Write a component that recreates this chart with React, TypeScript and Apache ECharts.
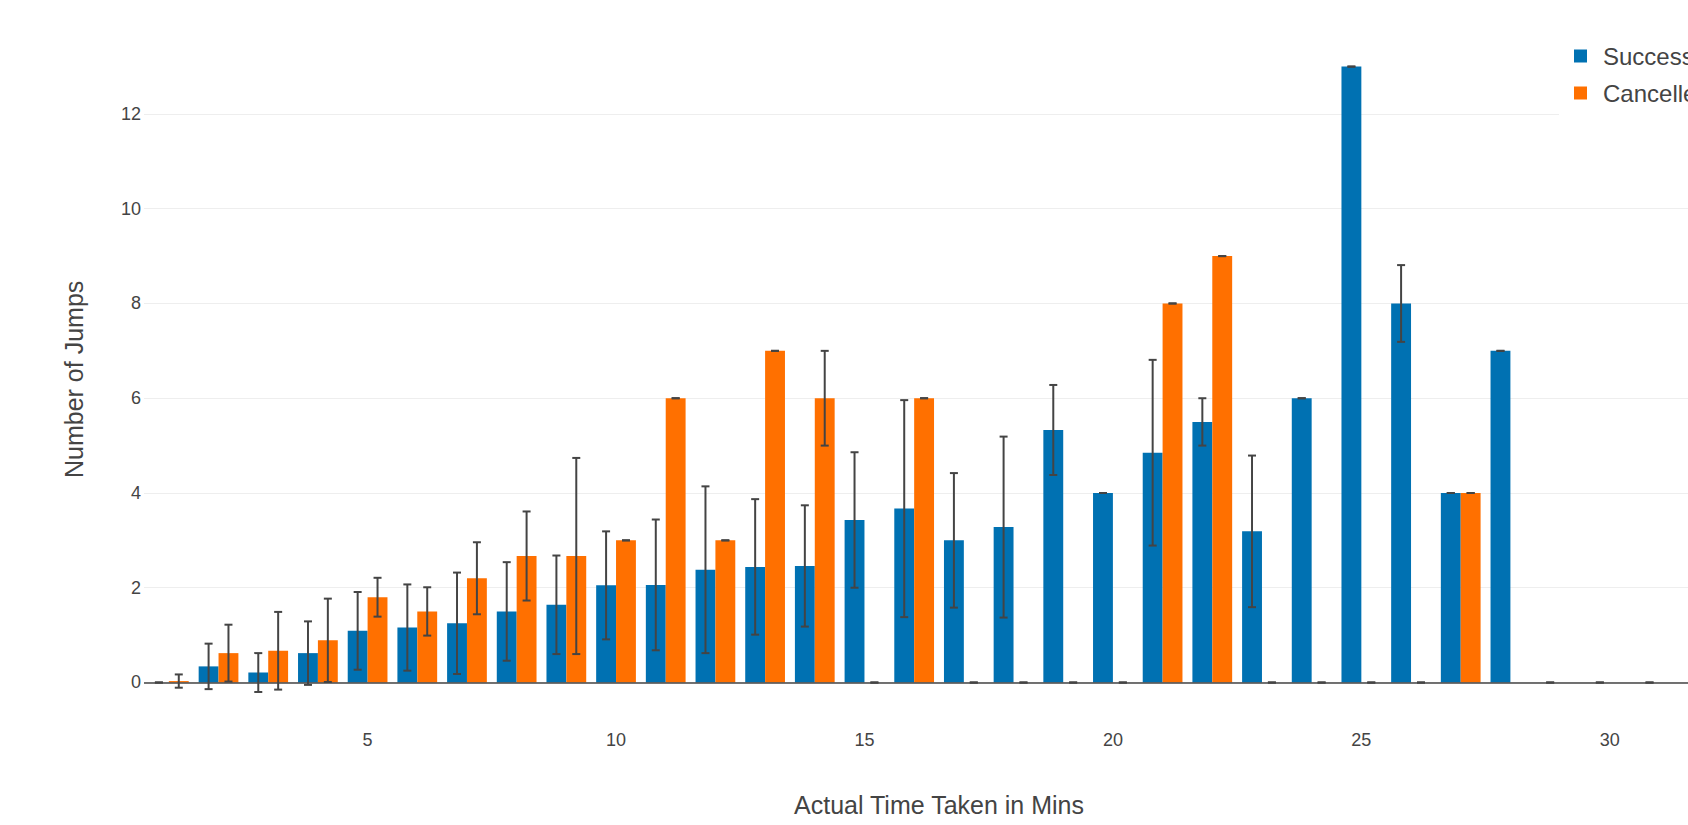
import React, { useEffect, useRef } from "react";
import * as echarts from "echarts";

const categories = [
  "1", "2", "3", "4", "5", "6", "7", "8", "9", "10", "11", "12", "13", "14", "15", "16",
  "17", "18", "19", "20", "21", "22", "23", "24", "25", "26", "27", "28", "29", "30", "31", "32",
];
const xTickLabels = ["5", "10", "15", "20", "25", "30"];
const yTickValues = [0, 2, 4, 6, 8, 10, 12];

const successful = [
  0, 0.34, 0.21, 0.62, 1.09, 1.16, 1.25, 1.5, 1.64, 2.05, 2.06, 2.38, 2.44, 2.46, 3.43, 3.67,
  3.0, 3.28, 5.33, 4.0, 4.85, 5.5, 3.19, 6, 13, 8, 4, 7, 0, 0, 0, 0,
];
const successfulErr = [
  0, 0.48, 0.41, 0.67, 0.82, 0.91, 1.07, 1.04, 1.04, 1.14, 1.38, 1.76, 1.43, 1.28, 1.43, 2.29,
  1.42, 1.91, 0.95, 0, 1.96, 0.5, 1.6, 0, 0, 0.81, 0, 0, 0, 0, 0, 0,
];
const cancelled = [
  0.03, 0.62, 0.67, 0.89, 1.8, 1.5, 2.2, 2.67, 2.67, 3, 6, 3, 7, 6, 0, 6,
  0, 0, 0, 0, 8, 9, 0, 0, 0, 0, 4, null, null, null, null, null,
];
const cancelledErr = [
  0.14, 0.6, 0.82, 0.88, 0.41, 0.51, 0.76, 0.94, 2.07, 0, 0, 0, 0, 1.0, 0, 0,
  0, 0, 0, 0, 0, 0, 0, 0, 0, 0, 0, null, null, null, null, null,
];

const BLUE = "#0071b2";
const ORANGE = "#ff7000";
const FONT = "'Liberation Sans', Arial, sans-serif";

function errData(vals: (number | null)[], errs: (number | null)[]) {
  const out: number[][] = [];
  vals.forEach((v, i) => {
    if (v != null) out.push([i, v, errs[i] ?? 0]);
  });
  return out;
}

function errRenderer(offsetFrac: number) {
  return (params: any, api: any) => {
    const idx = api.value(0);
    const v = api.value(1);
    const e = api.value(2);
    const c = api.coord([idx, v]);
    const band = api.size([1, 0])[0];
    const x = c[0] + offsetFrac * band;
    const top = api.coord([idx, v + e])[1];
    const bot = api.coord([idx, v - e])[1];
    const hw = 4;
    const style = { stroke: "#444", lineWidth: 2 };
    return {
      type: "group",
      children: [
        { type: "line", shape: { x1: x, y1: top, x2: x, y2: bot }, style },
        { type: "line", shape: { x1: x - hw, y1: top, x2: x + hw, y2: top }, style },
        { type: "line", shape: { x1: x - hw, y1: bot, x2: x + hw, y2: bot }, style },
      ],
    };
  };
}

export default function App() {
  const ref = useRef<HTMLDivElement>(null);
  useEffect(() => {
    document.body.style.margin = "0";
    document.body.style.overflow = "hidden";
    document.documentElement.style.overflow = "hidden";
    const chart = echarts.init(ref.current!, null, { renderer: "svg" });
    chart.setOption({
      animation: false,
      backgroundColor: "#fff",
      textStyle: { fontFamily: FONT },
      grid: { left: 144, right: 0, top: 32, bottom: 98.3, containLabel: false },
      legend: {
        orient: "vertical",
        left: 1559,
        top: 30,
        padding: [13, 10, 10, 15],
        itemWidth: 13,
        itemHeight: 13,
        itemGap: 11,
        icon: "rect",
        backgroundColor: "#fff",
        data: ["Successful", "Cancelled"],
        textStyle: { fontSize: 24, lineHeight: 26, color: "#444", fontFamily: FONT, padding: [0, 0, 0, 11] },
      },
      xAxis: {
        type: "category",
        data: categories,
        boundaryGap: true,
        axisLine: { show: false },
        axisTick: { show: false },
        splitLine: { show: false },
        axisLabel: {
          interval: (index: number, value: string) => xTickLabels.includes(value),
          fontSize: 18,
          color: "#444",
          margin: 4,
          fontFamily: FONT,
        },
        name: "Actual Time Taken in Mins",
        nameLocation: "middle",
        nameGap: 66,
        nameTextStyle: { fontSize: 25, color: "#444", fontFamily: FONT },
      },
      yAxis: {
        type: "value",
        min: -0.933,
        max: 13.73,
        axisLine: { show: false },
        axisTick: { show: false, customValues: yTickValues },
        axisLabel: {
          customValues: yTickValues,
          fontSize: 18,
          color: "#444",
          margin: 3,
          fontFamily: FONT,
        },
        splitLine: { show: true, lineStyle: { color: "#eee", width: 1 } },
        name: "Number of Jumps",
        nameLocation: "middle",
        nameGap: 58,
        nameTextStyle: { fontSize: 25, color: "#444", fontFamily: FONT },
      },
      series: [
        {
          name: "Successful",
          type: "bar",
          data: successful,
          barWidth: "40%",
          barGap: "0%",
          itemStyle: { color: BLUE },
          markLine: {
            silent: true,
            symbol: "none",
            label: { show: false },
            lineStyle: { color: "#444", width: 1.5, type: "solid" },
            data: [{ yAxis: 0 }],
          },
        },
        {
          name: "Cancelled",
          type: "bar",
          data: cancelled,
          barWidth: "40%",
          barGap: "0%",
          itemStyle: { color: ORANGE },
        },
        {
          name: "errSuccessful",
          type: "custom",
          data: errData(successful, successfulErr),
          encode: { x: 0, y: 1 },
          renderItem: errRenderer(-0.2),
          z: 5,
          silent: true,
        },
        {
          name: "errCancelled",
          type: "custom",
          data: errData(cancelled, cancelledErr),
          encode: { x: 0, y: 1 },
          renderItem: errRenderer(0.2),
          z: 5,
          silent: true,
        },
      ],
    });
    return () => chart.dispose();
  }, []);
  return <div ref={ref} style={{ position: "absolute", left: 0, top: 0, width: 1734, height: 825 }} />;
}
